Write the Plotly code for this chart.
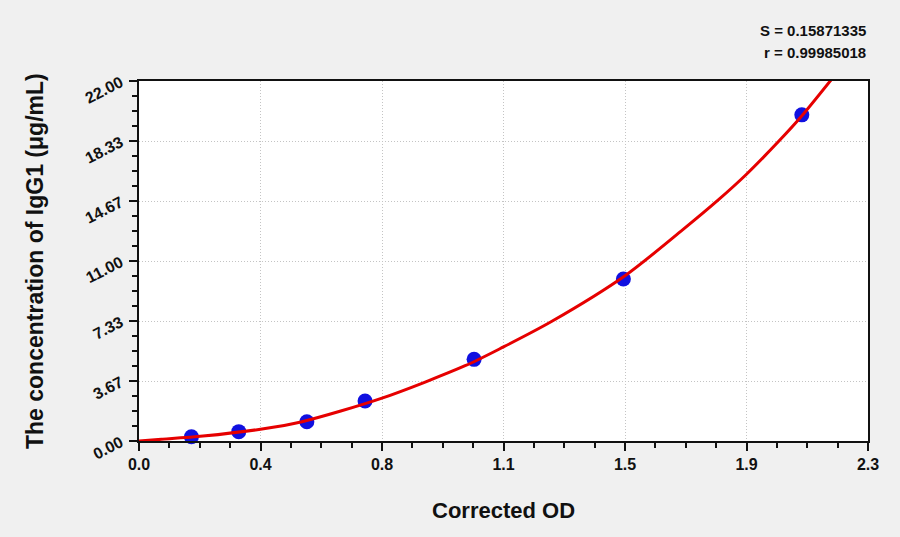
import plotly.graph_objects as go

# Standard points (Corrected OD vs concentration)
od_points = [0.164, 0.312, 0.525, 0.707, 1.048, 1.515, 2.073]
conc_points = [0.26, 0.57, 1.18, 2.44, 4.99, 9.90, 19.93]

# Fitted curve
curve_od = [0.0, 0.07, 0.20, 0.38, 0.51, 0.76, 1.02, 1.14, 1.29, 1.52, 1.70, 1.81, 1.90, 2.00, 2.07, 2.17]
curve_conc = [0.0, 0.10, 0.30, 0.72, 1.18, 2.62, 4.60, 5.75, 7.30, 10.1, 12.9, 14.7, 16.3, 18.3, 19.8, 22.2]

# Axis ticks
x_tickvals = [0.0, 0.38, 0.76, 1.14, 1.52, 1.90, 2.28]
x_ticktext = ["0.0", "0.4", "0.8", "1.1", "1.5", "1.9", "2.3"]
y_tickvals = [0.0, 22/6, 44/6, 11.0, 88/6, 110/6, 22.0]
y_ticktext = ["0.00", "3.67", "7.33", "11.00", "14.67", "18.33", "22.00"]

x_title = "Corrected OD"
y_title = "The concentration of IgG1 (μg/mL)"
stats_text = ["S = 0.15871335", "r = 0.99985018"]

FONT = "Liberation Sans, Arial, sans-serif"

x_minor = [x_tickvals[i] + (x_tickvals[i+1]-x_tickvals[i])*k/4
           for i in range(len(x_tickvals)-1) for k in (1, 2, 3)]
y_minor = [y_tickvals[i] + (y_tickvals[i+1]-y_tickvals[i])*k/4
           for i in range(len(y_tickvals)-1) for k in (1, 2, 3)]

fig = go.Figure()
fig.add_trace(go.Scatter(
    x=od_points, y=conc_points, mode="markers",
    marker=dict(color="#1010e0", size=15, line=dict(width=0)),
    showlegend=False, cliponaxis=False,
))
fig.add_trace(go.Scatter(
    x=curve_od, y=curve_conc, mode="lines",
    line=dict(color="#e60000", width=3, shape="spline", smoothing=0.8),
    showlegend=False,
))

fig.update_layout(
    width=900, height=537,
    paper_bgcolor="#f0f0f0", plot_bgcolor="#ffffff",
    margin=dict(l=139, r=32, t=81, b=96),
    font=dict(family=FONT, color="#111111"),
)

fig.update_xaxes(
    range=[0, 2.28], tickmode="array", tickvals=x_tickvals, ticktext=x_ticktext,
    ticks="outside", ticklen=8, tickwidth=2, tickcolor="#111",
    showline=True, linecolor="#111", linewidth=2, mirror=True,
    showgrid=True, gridcolor="#c4c4c4", griddash="1px,2px", gridwidth=1,
    zeroline=False,
    tickfont=dict(size=16, family=FONT, weight="bold"),
    minor=dict(tickmode="array", tickvals=x_minor, ticks="outside", ticklen=5,
               tickwidth=2, tickcolor="#111", showgrid=False),
)
fig.update_yaxes(
    range=[0, 22], tickmode="array", tickvals=y_tickvals, ticktext=y_ticktext,
    ticks="outside", ticklen=8, tickwidth=2, tickcolor="#111", tickangle=-27,
    ticklabelstandoff=5,
    showline=True, linecolor="#111", linewidth=2, mirror=True,
    showgrid=True, gridcolor="#c4c4c4", griddash="1px,2px", gridwidth=1,
    zeroline=False,
    tickfont=dict(size=16, family=FONT, weight="bold"),
    minor=dict(tickmode="array", tickvals=y_minor, ticks="outside", ticklen=5,
               tickwidth=2, tickcolor="#111", showgrid=False),
)

# Axis titles
fig.add_annotation(
    text=x_title, xref="paper", yref="paper", x=0.5, y=-(510-441)/360,
    xanchor="center", yanchor="middle", showarrow=False,
    font=dict(size=22, family=FONT, weight="bold", color="#111"),
)
fig.add_annotation(
    text=y_title, xref="paper", yref="paper", x=-(139-35)/729, y=0.5,
    xanchor="center", yanchor="middle", showarrow=False, textangle=-90,
    font=dict(size=23, family=FONT, weight="bold", color="#111"),
)

for i, t in enumerate(stats_text):
    fig.add_annotation(
        text=t, xref="paper", yref="paper", x=1.0, y=1.0,
        xanchor="right", yanchor="middle", showarrow=False,
        yshift=(81-30) - 22*i,
        font=dict(size=15, family=FONT, weight="bold", color="#111"),
    )

fig.write_html(
    "out.html",
    config={"displayModeBar": False},
    post_script="document.body.style.margin='0';document.body.style.background='#f0f0f0';",
)
